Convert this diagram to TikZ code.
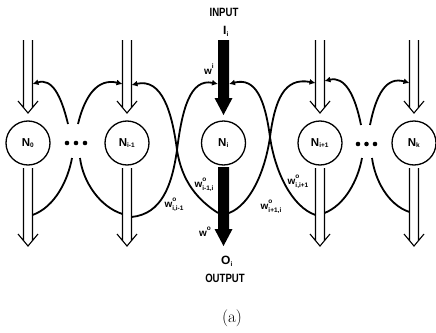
\documentclass[tikz,border=0pt]{standalone}
\usepackage{fontspec}
\setsansfont{Liberation Sans}
\usetikzlibrary{arrows.meta}
\newcommand{\sm}[1]{\hbox{\sffamily\bfseries\fontsize{6.5}{7}\selectfont #1}}
\newcommand{\wlb}[2]{w\rlap{\raisebox{1.05ex}{\sm{#1}}}\raisebox{-0.6ex}{\sm{#2}}}
\newcommand{\nsub}[2]{$\hbox{#1}_{\sm{#2}}$}
\newcommand{\harrow}[3]{\draw[hol] (#1-4.5,#2) -- (#1-4.5,#3-5.4) (#1+4.5,#2) -- (#1+4.5,#3-5.4) (#1-10,#3-12) -- (#1,#3) -- (#1+10,#3-12);}
\newcommand{\tarrow}[3]{\fill (#1-5.5,#2) -- (#1-5.5,#3-17) -- (#1-9,#3-17) -- (#1,#3) -- (#1+9,#3-17) -- (#1+5.5,#3-17) -- (#1+5.5,#2) -- cycle;}
\tikzset{
  neuron/.style={circle, draw, line width=1.3pt, minimum size=44pt, inner sep=0pt, font=\sffamily\bfseries\fontsize{11.5}{13}\selectfont},
  fb/.style={line width=1.8pt},
  fba/.style={fb, -{Latex[length=6pt,width=6pt]}},
  hol/.style={line width=1.1pt},
  lab/.style={font=\sffamily\bfseries\fontsize{10}{11}\selectfont, inner sep=0pt},
  captext/.style={font=\sffamily\bfseries\fontsize{12}{13}\selectfont, inner sep=0pt},
  dotn/.style={circle, fill, minimum size=4.6pt, inner sep=0pt}
}
\begin{document}
\begin{tikzpicture}[x=1pt,y=-1pt]
\useasboundingbox (0,0) rectangle (436,332);

% neurons
\node[neuron] (N0) at (28,143) {\nsub{N}{0}};
\node[neuron] (Nm) at (127,143) {\nsub{N}{i-1}};
\node[neuron] (Ni) at (223.5,143) {\nsub{N}{i}};
\node[neuron] (Np) at (320,143) {\nsub{N}{i+1}};
\node[neuron] (Nk) at (414,143) {\nsub{N}{k}};

% dots
\foreach \x/\n in {67/a,76/b,85/c}{\node[dotn] (d\n) at (\x,143) {};}
\foreach \x/\n in {358/a,366.5/b,375/c}{\node[dotn] (e\n) at (\x,144) {};}

% hollow input / output arrows
\harrow{28}{40}{113}
\harrow{127}{40}{113}
\harrow{320}{40}{113}
\harrow{414}{40}{113}
\harrow{28}{168}{246}
\harrow{127}{168}{246}
\harrow{320}{168}{246}
\harrow{414}{168}{246}

% thick central arrows
\tarrow{223.5}{40}{115}
\tarrow{223.5}{167}{246}

% endpoint coordinates
\coordinate (o0r) at (32.5,215);
\coordinate (i0r) at (32.5,84);
\coordinate (g1) at (72,158);
\coordinate (g2) at (68,124);
\coordinate (g3) at (80,158);
\coordinate (g4) at (78,124);
\coordinate (oml) at (122.5,214);
\coordinate (iml) at (122.5,84);
\coordinate (omr) at (131.5,217);
\coordinate (imr) at (131.5,85);
\coordinate (oil) at (218,213);
\coordinate (iil) at (218,84);
\coordinate (oir) at (229,213);
\coordinate (iir) at (229,84);
\coordinate (opl) at (315.5,215);
\coordinate (ipl) at (315.5,83);
\coordinate (opr) at (324.5,213);
\coordinate (ipr) at (324.5,81);
\coordinate (h1) at (362,158);
\coordinate (h2) at (361,125);
\coordinate (h3) at (372,158);
\coordinate (h4) at (370,125);
\coordinate (okl) at (409.5,212);
\coordinate (ikl) at (409.5,83);

% feedback connections
\draw[fb] (o0r) .. controls (55,207) and (68,180) .. (g1);
\draw[fba] (g2) .. controls (61,95) and (52,78) .. (i0r);
\draw[fb] (oml) .. controls (100,207) and (83,182) .. (g3);
\draw[fba] (g4) .. controls (85,95) and (98,78) .. (iml);
\draw[fba] (omr) .. controls (162,214) and (172,185) .. (177,150) .. controls (182,110) and (190,78) .. (iil);
\draw[fba] (oil) .. controls (198,200) and (182,182) .. (177,150) .. controls (172,112) and (162,78) .. (imr);
\draw[fba] (oir) .. controls (250,205) and (265,172) .. (270,137) .. controls (275,100) and (284,77) .. (ipl);
\draw[fba] (opl) .. controls (292,207) and (275,172) .. (270,137) .. controls (265,100) and (256,77) .. (iir);
\draw[fb] (opr) .. controls (345,205) and (358,180) .. (h1);
\draw[fba] (h2) .. controls (355,95) and (345,76) .. (ipr);
\draw[fb] (okl) .. controls (388,205) and (375,180) .. (h3);
\draw[fba] (h4) .. controls (376,95) and (386,76) .. (ikl);

% labels
\node[captext] (inp) at (224,12) {\scalebox{0.8}[1]{INPUT}};
\node[captext] (Ii) at (226,31) {\nsub{I}{i}};
\node[lab] (wi) at (209,69) {w\raisebox{1.05ex}{\sm{i}}};
\node[lab] (w1) at (204,185) {\wlb{o}{i-1,i}};
\node[lab] (w2) at (174,205) {\wlb{o}{i,i-1}};
\node[lab] (w3) at (298,182) {\wlb{o}{i,i+1}};
\node[lab] (w4) at (271,207) {\wlb{o}{i+1,i}};
\node[lab] (wo) at (205,232) {w\raisebox{1.05ex}{\sm{o}}};
\node[captext] (Oi) at (227,261) {\nsub{O}{i}};
\node[captext] (outp) at (225,278) {\scalebox{0.8}[1]{OUTPUT}};
\node[font=\fontsize{17}{19}\selectfont, inner sep=0pt] (sub) at (232,318) {(a)};
\end{tikzpicture}
\end{document}
